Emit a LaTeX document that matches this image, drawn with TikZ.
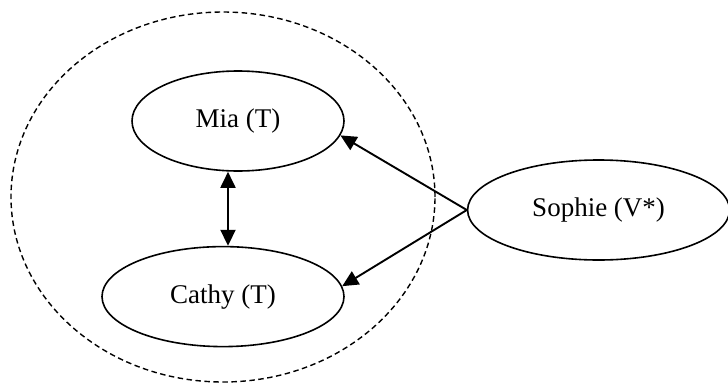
\documentclass[tikz,border=0pt]{standalone}
\usepackage{fontspec}
\setmainfont{Liberation Serif}
\usepackage{tikz}
\usetikzlibrary{positioning,arrows.meta,shapes.geometric}
\tikzset{
  person/.style={ellipse, draw, line width=1.6pt, inner sep=0pt, minimum height=100pt,
                 font=\fontsize{27}{31}\selectfont},
  link/.style={-{Triangle[length=16pt, width=15pt]}, line width=1.9pt},
  bothlink/.style={{Triangle[length=16pt, width=15pt]}-{Triangle[length=16pt, width=15pt]}, line width=1.9pt},
  groupline/.style={draw, line width=1.4pt, dash pattern=on 5.5pt off 3.5pt},
}

\begin{document}
\begin{tikzpicture}[x=1pt, y=1pt]
\useasboundingbox (0,0) rectangle (728,-383);
%Nodes
\node[person, minimum width=212pt] (mia) at (238,-121) {Mia (T)};
\node[person, minimum width=242pt] (cathy) [below=74pt of mia, xshift=-15pt] {Cathy (T)};
\node[person, minimum width=262pt] (sophie) [right=122pt of mia, yshift=-89pt] {Sophie (V*)};

%Group
\draw[groupline] (223,-197) ellipse (212 and 185);

%Lines
\draw[bothlink] ([xshift=-10pt]mia.south) -- ([xshift=5pt]cathy.north);
\draw[link] (sophie.west) -- (mia.-8);
\draw[link] (sophie.west) -- (cathy.5);
\end{tikzpicture}
\end{document}
